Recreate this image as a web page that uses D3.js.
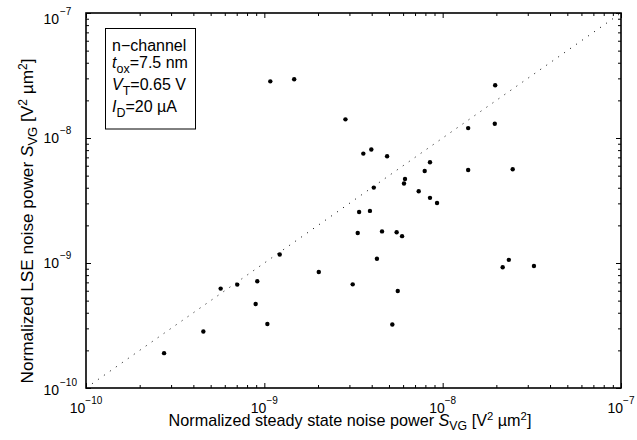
<!DOCTYPE html>
<html>
<head>
<meta charset="utf-8">
<script src="https://cdn.jsdelivr.net/npm/d3@7"></script>
<style>
  body { margin: 0; background: #fff; }
  text { font-family: "Liberation Sans", Arial, Helvetica, sans-serif; fill: #000; }
</style>
</head>
<body>
<div id="chart"></div>
<script>
// chart size
const WIDTH = 637;
const HEIGHT = 440;
const margin = { top: 13, right: 16, bottom: 52, left: 86 };

// data: steady state noise (x) vs LSE noise (y), V^2 um^2
const steadyState = [1.08e-9, 1.47e-9, 2.85e-9, 1.97e-8, 1.96e-8, 1.39e-8, 3.59e-9, 3.98e-9, 4.88e-9, 8.49e-9,
  7.93e-9, 1.39e-8, 2.47e-8, 6.15e-9, 6.07e-9, 4.11e-9, 7.34e-9, 8.49e-9, 9.30e-9, 1.22e-9,
  5.69e-10, 7.05e-10, 9.13e-10, 2.02e-9, 3.13e-9, 8.94e-10, 1.04e-9, 4.55e-10, 2.74e-10, 3.40e-9,
  3.91e-9, 3.34e-9, 4.57e-9, 5.52e-9, 5.92e-9, 4.28e-9, 5.60e-9, 5.22e-9, 2.17e-8, 2.35e-8, 3.25e-8];
const lse = [2.84e-8, 2.95e-8, 1.41e-8, 2.64e-8, 1.30e-8, 1.20e-8, 7.50e-9, 8.08e-9, 7.14e-9, 6.39e-9,
  5.45e-9, 5.55e-9, 5.62e-9, 4.70e-9, 4.32e-9, 4.01e-9, 3.75e-9, 3.32e-9, 3.02e-9, 1.17e-9,
  6.24e-10, 6.72e-10, 7.14e-10, 8.47e-10, 6.75e-10, 4.70e-10, 3.25e-10, 2.83e-10, 1.90e-10, 2.56e-9,
  2.61e-9, 1.74e-9, 1.79e-9, 1.76e-9, 1.64e-9, 1.08e-9, 5.97e-10, 3.22e-10, 9.24e-10, 1.06e-9, 9.46e-10];

// decades for the tick labels
const majorTicks = [1e-10, 1e-9, 1e-8, 1e-7];
const tickExponents = ["\u221210", "\u22129", "\u22128", "\u22127"];
const domain = [1e-10, 1e-7];

// legend lines: [main, subscript, rest]
const legendLines = [
  ["n\u2212channel", "", ""],
  ["t", "ox", "=7.5 nm"],
  ["V", "T", "=0.65 V"],
  ["I", "D", "=20 \u00b5A"]
];

const minorTicks = [];
for (let e = -10; e < -7; e++) {
  for (let m = 2; m <= 9; m++) minorTicks.push(m * Math.pow(10, e));
}

const svg = d3.select("#chart").append("svg")
  .attr("width", WIDTH)
  .attr("height", HEIGHT);

const xScale = d3.scaleLog().domain(domain).range([margin.left, WIDTH - margin.right]);
const yScale = d3.scaleLog().domain(domain).range([HEIGHT - margin.bottom, margin.top]);
const x0 = xScale.range()[0], x1 = xScale.range()[1];
const y0 = yScale.range()[0], y1 = yScale.range()[1];

// ticks pointing inwards on all four sides
function drawTicks(axis, transform, values, size) {
  svg.append("g")
    .attr("transform", transform)
    .call(axis.tickValues(values).tickSizeInner(size).tickSizeOuter(0).tickFormat(""))
    .call(g => g.select(".domain").remove())
    .call(g => g.selectAll("line").attr("stroke", "#000").attr("stroke-width", 1));
}
drawTicks(d3.axisBottom(xScale), `translate(0,${y0})`, majorTicks, -5);
drawTicks(d3.axisBottom(xScale), `translate(0,${y0})`, minorTicks, -3);
drawTicks(d3.axisTop(xScale), `translate(0,${y1})`, majorTicks, -5);
drawTicks(d3.axisTop(xScale), `translate(0,${y1})`, minorTicks, -3);
drawTicks(d3.axisLeft(yScale), `translate(${x0},0)`, majorTicks, -5);
drawTicks(d3.axisLeft(yScale), `translate(${x0},0)`, minorTicks, -3);
drawTicks(d3.axisRight(yScale), `translate(${x1},0)`, majorTicks, -5);
drawTicks(d3.axisRight(yScale), `translate(${x1},0)`, minorTicks, -3);

// y = x reference line
svg.append("line")
  .attr("x1", xScale(domain[0])).attr("y1", yScale(domain[0]))
  .attr("x2", xScale(domain[1])).attr("y2", yScale(domain[1]))
  .attr("stroke", "#000")
  .attr("stroke-width", 1)
  .attr("stroke-dasharray", "1 6.3");

// points
svg.append("g")
  .selectAll("circle")
  .data(steadyState.map((d, i) => [d, lse[i]]))
  .enter().append("circle")
  .attr("cx", d => xScale(d[0]))
  .attr("cy", d => yScale(d[1]))
  .attr("r", 2.2)
  .attr("fill", "#000");

// axes box
svg.append("rect")
  .attr("x", x0).attr("y", y1)
  .attr("width", x1 - x0).attr("height", y0 - y1)
  .attr("fill", "none")
  .attr("stroke", "#000")
  .attr("stroke-width", 1.6);

// x tick labels
majorTicks.forEach((v, i) => {
  const t = svg.append("text")
    .attr("x", xScale(v))
    .attr("y", y0 + 25)
    .attr("text-anchor", "middle")
    .style("font-size", "14px");
  t.append("tspan").text("10");
  t.append("tspan").attr("dy", -9).style("font-size", "10px").text(tickExponents[i]);
});

// y tick labels ("10" right aligned, exponent hanging to the right)
majorTicks.forEach((v, i) => {
  let base = yScale(v) + 5;
  if (i == 0) base = yScale(v) + 7;
  if (i == 3) base = yScale(v) + 11;
  svg.append("text")
    .attr("x", 59).attr("y", base)
    .attr("text-anchor", "end")
    .style("font-size", "14px")
    .text("10");
  svg.append("text")
    .attr("x", 60).attr("y", base - 9)
    .style("font-size", "10px")
    .text(tickExponents[i]);
});

// axis titles
function axisTitle(t, start, size) {
  t.append("tspan").text(start);
  t.append("tspan").style("font-style", "italic").text("S");
  t.append("tspan").attr("dy", 4).style("font-size", (size * 0.76) + "px").text("VG");
  t.append("tspan").attr("dy", -4).text(" [V");
  t.append("tspan").attr("dy", -6).style("font-size", (size * 0.7) + "px").text("2");
  t.append("tspan").attr("dy", 6).text(" \u00b5m");
  t.append("tspan").attr("dy", -6).style("font-size", (size * 0.7) + "px").text("2");
  t.append("tspan").attr("dy", 6).text("]");
}

const xlabel = svg.append("text")
  .attr("x", 350).attr("y", 426)
  .attr("text-anchor", "middle")
  .style("font-size", "16.2px");
axisTitle(xlabel, "Normalized steady state noise power ", 16.2);

const ylabel = svg.append("text")
  .attr("transform", "translate(33,221) rotate(-90)")
  .attr("text-anchor", "middle")
  .style("font-size", "17.2px");
axisTitle(ylabel, "Normalized LSE noise power ", 17.2);

// legend box
svg.append("rect")
  .attr("x", 105.5).attr("y", 28.5)
  .attr("width", 90).attr("height", 100.5)
  .attr("fill", "#fff")
  .attr("stroke", "#000")
  .attr("stroke-width", 1);

const legendBase = [50.5, 67.5, 90, 111.5];
legendLines.forEach((l, i) => {
  const t = svg.append("text")
    .attr("x", 112).attr("y", legendBase[i])
    .style("font-size", "16px");
  t.append("tspan").style("font-style", i > 0 ? "italic" : "normal").text(l[0]);
  if (l[1]) {
    t.append("tspan").attr("dy", 5).style("font-size", "12.5px").text(l[1]);
    t.append("tspan").attr("dy", -5).text(l[2]);
  }
});
</script>
</body>
</html>
